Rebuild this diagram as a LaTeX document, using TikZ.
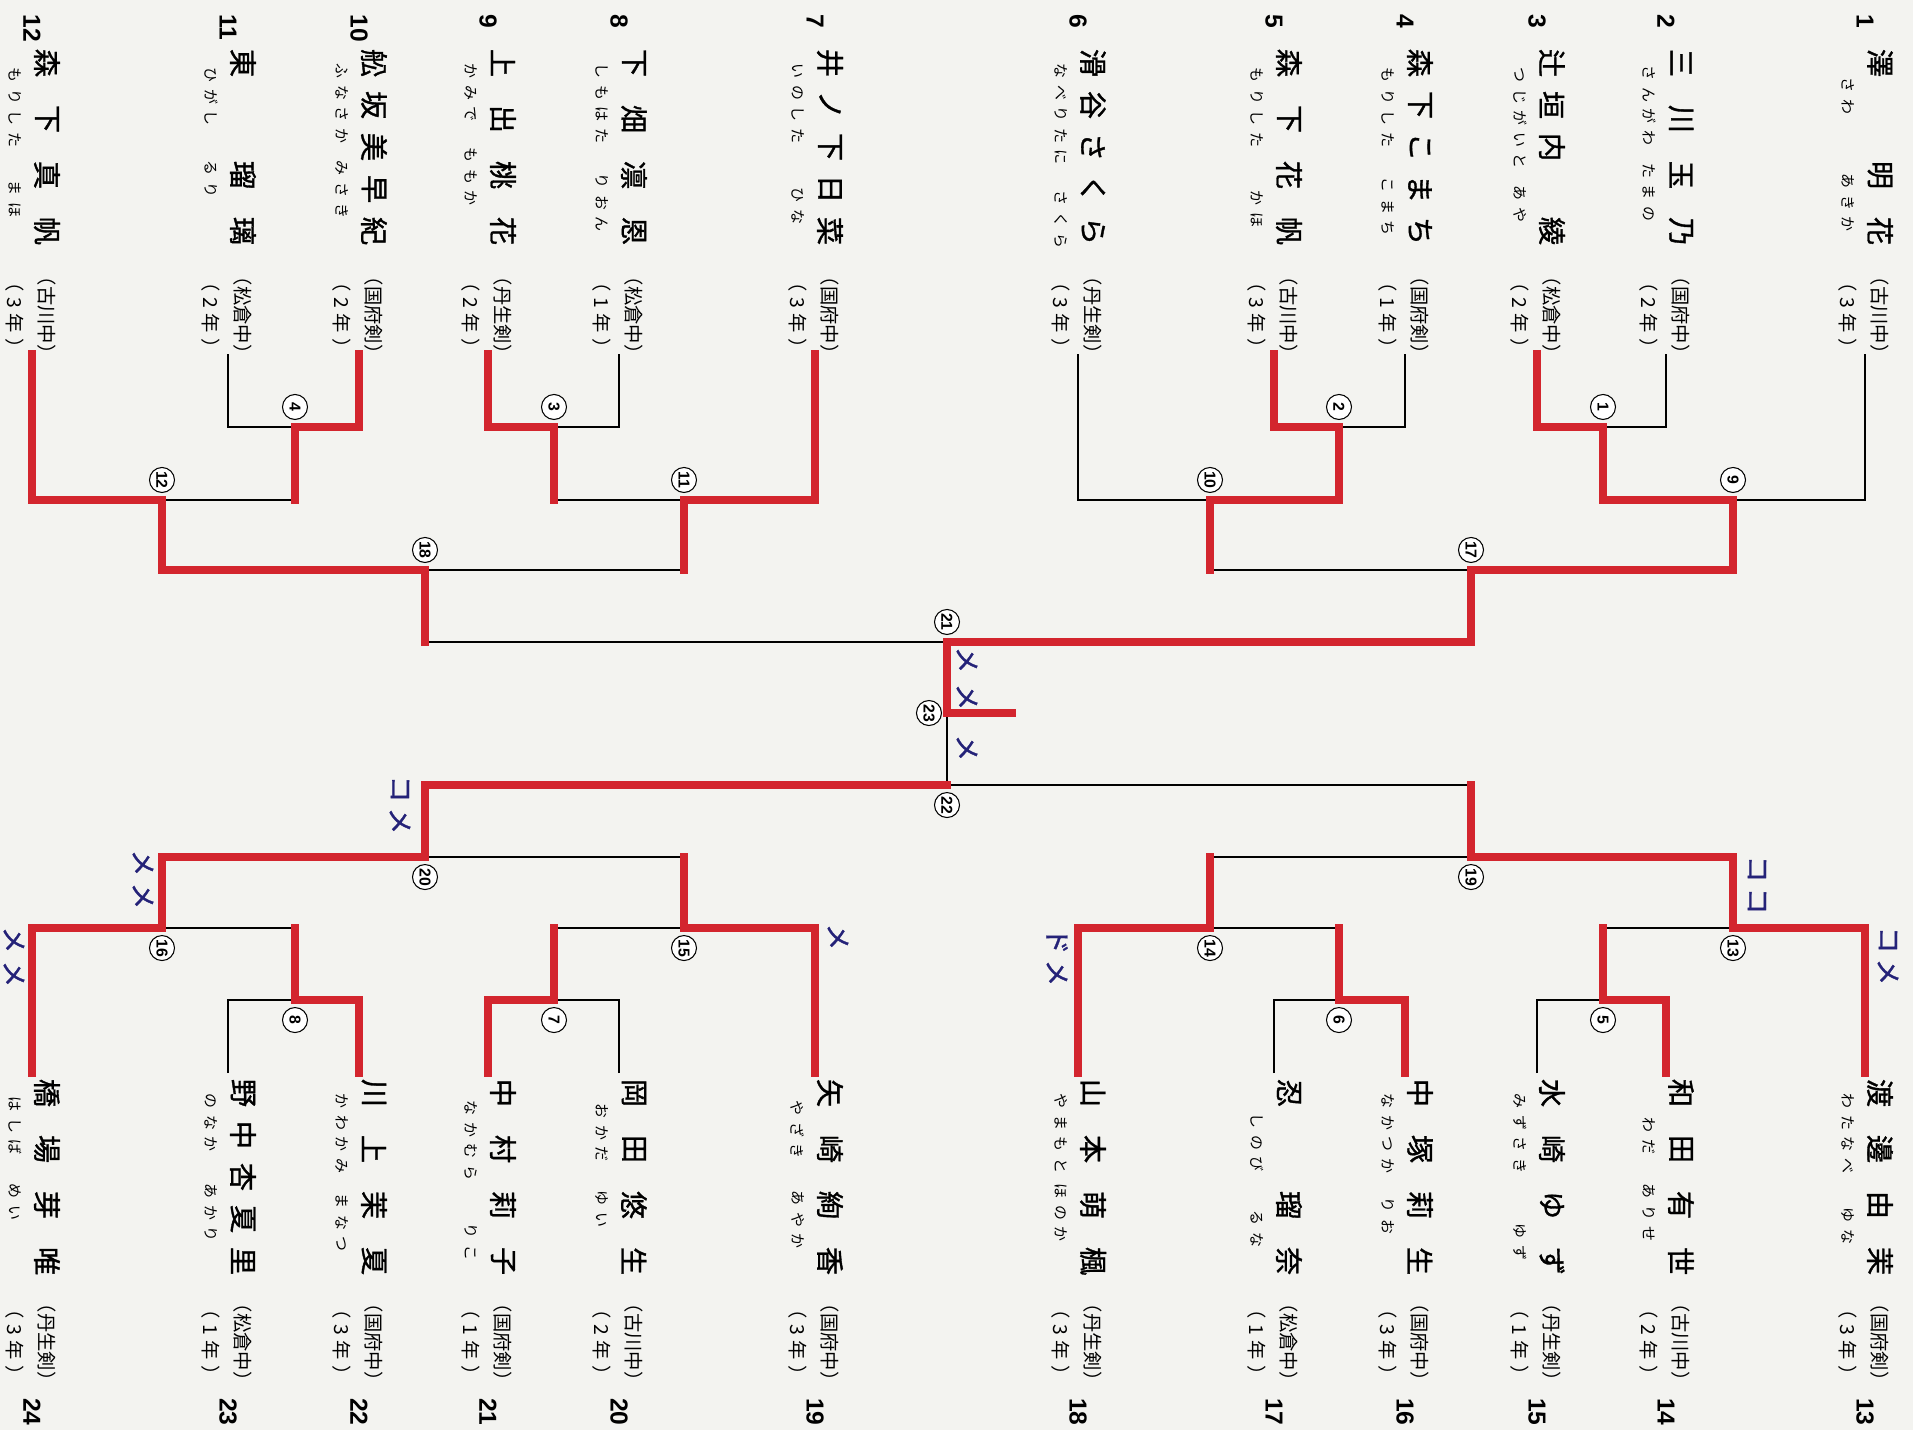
\documentclass[tikz,border=0pt]{standalone}
\usepackage{fontspec}
\usepackage{tikz}
\usetikzlibrary{positioning}
\newfontfamily\jpfont{Noto Sans CJK JP}
\newfontfamily\namefont{Noto Sans CJK JP}[FakeBold=1.2]
\newfontfamily\furifont{Noto Sans CJK JP}[LetterSpace=45]
\newfontfamily\numfont{Liberation Sans}
\definecolor{paper}{RGB}{243,243,240}
\definecolor{winred}{RGB}{211,37,46}
\definecolor{penblue}{RGB}{36,34,120}

% #1 number, #2 x, #3 name letters, #4/#5 and #6/#7 readings, #8 school, #9 grade
\newcommand\player[9]{%
  \ifnum#1<13 \def\yz{63}\def\yl{354}\def\ys{315}\else \def\yz{1093}\def\yl{1073}\def\ys{1342}\fi
  \coordinate (p#1) at (#2,\yl);
  \ifnum#1<13 \node[pno, anchor=west] (n#1) at (#2,14) {#1};
  \else \node[pno, anchor=east] (n#1) at (#2,1426) {#1}; \fi
  \foreach \off/\ch [count=\i] in {#3}
    \node[pname] (c#1-\i) at ({#2+15},{\yz+\off}) {\ch};
  \node[furi, anchor=west] (fa#1) at ({#2-17},{\yz+#4}) {#5};
  \node[furi, anchor=west] (fb#1) at ({#2-17},{\yz+#6}) {#7};
  \node[school] (s#1) at ({#2+15},\ys) {（#8）};
  \node[school] (g#1) at ({#2-17},\ys) {\makebox[17mm][s]{（{\hfil}#9{\hfil}年{\hfil}）}};
}

\begin{document}
\begin{tikzpicture}[x=0.2mm, y=-0.2mm,
  pname/.style = {rotate=-90, inner sep=0pt, font=\namefont\fontsize{16}{16}\selectfont},
  furi/.style = {rotate=-90, inner sep=0pt, font=\furifont\fontsize{8.5}{9}\selectfont},
  school/.style = {rotate=-90, inner sep=0pt, font=\jpfont\fontsize{11}{11}\selectfont},
  pno/.style = {rotate=-90, inner sep=0pt, font=\numfont\bfseries\fontsize{14}{14}\selectfont},
  mnum/.style = {circle, draw, line width=0.6pt, fill=white, minimum size=5mm, inner sep=0pt,
    font=\numfont\bfseries\fontsize{9}{9}\selectfont},
  tally/.style = {rotate=-90, inner sep=0pt, text=penblue, font=\namefont\fontsize{15}{15}\selectfont},
  thinline/.style = {line width=1.4pt, black},
  winline/.style = {line width=4.8pt, winred, line cap=rect}]
\useasboundingbox (0,0) rectangle (1913,1430);
\fill[paper] (0,0) rectangle (1913,1430);

\player{1}{1865}{0/澤,112/明,168/花}{14}{さわ}{110}{あきか}{古川中}{3}
\player{2}{1666}{0/三,56/川,112/玉,168/乃}{2}{さんがわ}{100}{たまの}{国府中}{2}
\player{3}{1537}{0/辻,42/垣,84/内,168/綾}{4}{つじがいと}{122}{あや}{松倉中}{2}
\player{4}{1405}{0/森,42/下,84/こ,126/ま,168/ち}{4}{もりした}{114}{こまち}{国府剣}{1}
\player{5}{1274}{0/森,56/下,112/花,168/帆}{4}{もりした}{127}{かほ}{古川中}{3}
\player{6}{1078}{0/滑,42/谷,84/さ,126/く,168/ら}{0}{なべりたに}{127}{さくら}{丹生剣}{3}
\player{7}{815}{0/井,42/ノ,84/下,126/日,168/菜}{0}{いのした}{124}{ひな}{国府中}{3}
\player{8}{619}{0/下,56/畑,112/凛,168/恩}{0}{しもはた}{110}{りおん}{松倉中}{1}
\player{9}{488}{0/上,56/出,112/桃,168/花}{0}{かみで}{84}{ももか}{丹生剣}{2}
\player{10}{359}{0/舩,42/坂,84/美,126/早,168/紀}{0}{ふなさか}{97}{みさき}{国府剣}{2}
\player{11}{228}{0/東,112/瑠,168/璃}{4}{ひがし}{97}{るり}{松倉中}{2}
\player{12}{32}{0/森,56/下,112/真,168/帆}{4}{もりした}{117}{まほ}{古川中}{3}
\player{13}{1865}{0/渡,56/邊,112/由,168/茉}{0}{わたなべ}{114}{ゆな}{国府剣}{3}
\player{14}{1666}{0/和,56/田,112/有,168/世}{24}{わだ}{90}{ありせ}{古川中}{2}
\player{15}{1537}{0/水,56/崎,112/ゆ,168/ず}{0}{みずさき}{130}{ゆず}{丹生剣}{1}
\player{16}{1405}{0/中,56/塚,112/莉,168/生}{0}{なかつか}{104}{りお}{国府中}{3}
\player{17}{1274}{0/忍,112/瑠,168/奈}{20}{しのび}{117}{るな}{松倉中}{1}
\player{18}{1078}{0/山,56/本,112/萌,168/楓}{0}{やまもと}{90}{ほのか}{丹生剣}{3}
\player{19}{815}{0/矢,56/崎,112/絢,168/香}{7}{やざき}{97}{あやか}{国府中}{3}
\player{20}{619}{0/岡,56/田,112/悠,168/生}{10}{おかだ}{97}{ゆい}{古川中}{2}
\player{21}{488}{0/中,56/村,112/莉,168/子}{7}{なかむら}{130}{りこ}{国府剣}{1}
\player{22}{359}{0/川,56/上,112/茉,168/夏}{0}{かわかみ}{100}{まなつ}{国府中}{3}
\player{23}{228}{0/野,42/中,84/杏,126/夏,168/里}{0}{のなか}{90}{あかり}{松倉中}{1}
\player{24}{32}{0/橋,56/場,112/芽,168/唯}{3}{はしば}{90}{めい}{丹生剣}{3}

\coordinate (m1) at (1603,427);
\coordinate (m2) at (1339,427);
\coordinate (m3) at (554,427);
\coordinate (m4) at (295,427);
\coordinate (m5) at (1603,1000);
\coordinate (m6) at (1339,1000);
\coordinate (m7) at (554,1000);
\coordinate (m8) at (295,1000);
\coordinate (m9) at (1733,500);
\coordinate (m10) at (1210,500);
\coordinate (m11) at (684,500);
\coordinate (m12) at (162,500);
\coordinate (m13) at (1733,928);
\coordinate (m14) at (1210,928);
\coordinate (m15) at (684,928);
\coordinate (m16) at (162,928);
\coordinate (m17) at (1471,570);
\coordinate (m18) at (425,570);
\coordinate (m19) at (1471,857);
\coordinate (m20) at (425,857);
\coordinate (m21) at (947,642);
\coordinate (m22) at (947,785);
\coordinate (m23) at (947,713);
\coordinate (champ) at (1012,713);

\foreach \a/\m in {p2/m1,p3/m1,p4/m2,p5/m2,p8/m3,p9/m3,p10/m4,p11/m4,
    p14/m5,p15/m5,p16/m6,p17/m6,p20/m7,p21/m7,p22/m8,p23/m8,
    p1/m9,m1/m9,p6/m10,m2/m10,p7/m11,m3/m11,p12/m12,m4/m12,
    p13/m13,m5/m13,p18/m14,m6/m14,p19/m15,m7/m15,p24/m16,m8/m16,
    m9/m17,m10/m17,m11/m18,m12/m18,m13/m19,m14/m19,m15/m20,m16/m20,
    m17/m21,m18/m21,m19/m22,m20/m22,m22/m23}
  \draw[thinline] (\a) |- (\m);

\foreach \a/\m in {p3/m1,p5/m2,p9/m3,p10/m4,p14/m5,p16/m6,p21/m7,p22/m8,
    m1/m9,m2/m10,p7/m11,p12/m12,p13/m13,p18/m14,p19/m15,p24/m16,
    m9/m17,m12/m18,m13/m19,m16/m20,m17/m21,m20/m22}
  \draw[winline] (\a) |- (\m);
\foreach \a/\m in {m3/m11,m4/m12,m5/m13,m6/m14,m7/m15,m8/m16,
    m10/m17,m11/m18,m14/m19,m15/m20,m18/m21,m19/m22}
  \draw[winline] (\a) -- (\a |- \m);
\draw[winline] (m21) -- (m23) -- (champ);

\foreach \k in {1,2,3,4,9,10,11,12,17,18,21}
  \node[mnum, above=1.4mm of m\k] (r\k) {\rotatebox{-90}{\k}};
\foreach \k in {5,6,7,8,13,14,15,16,19,20,22}
  \node[mnum, below=1.4mm of m\k] (r\k) {\rotatebox{-90}{\k}};
\node[mnum, left=1mm of m23] (r23) {\rotatebox{-90}{23}};

\node[tally] (k1) at (967,660) {メ};
\node[tally] (k2) at (967,697) {メ};
\node[tally] (k3) at (967,748) {メ};
\node[tally] (k4) at (400,789) {コ};
\node[tally] (k5) at (400,821) {メ};
\node[tally] (k6) at (143,863) {メ};
\node[tally] (k7) at (143,896) {メ};
\node[tally] (k8) at (14,940) {メ};
\node[tally] (k9) at (14,974) {メ};
\node[tally] (k10) at (838,937) {メ};
\node[tally] (k11) at (1057,941) {ド};
\node[tally] (k12) at (1057,973) {メ};
\node[tally] (k13) at (1757,869) {コ};
\node[tally] (k14) at (1757,901) {コ};
\node[tally] (k15) at (1888,940) {コ};
\node[tally] (k16) at (1888,972) {メ};
\end{tikzpicture}
\end{document}
